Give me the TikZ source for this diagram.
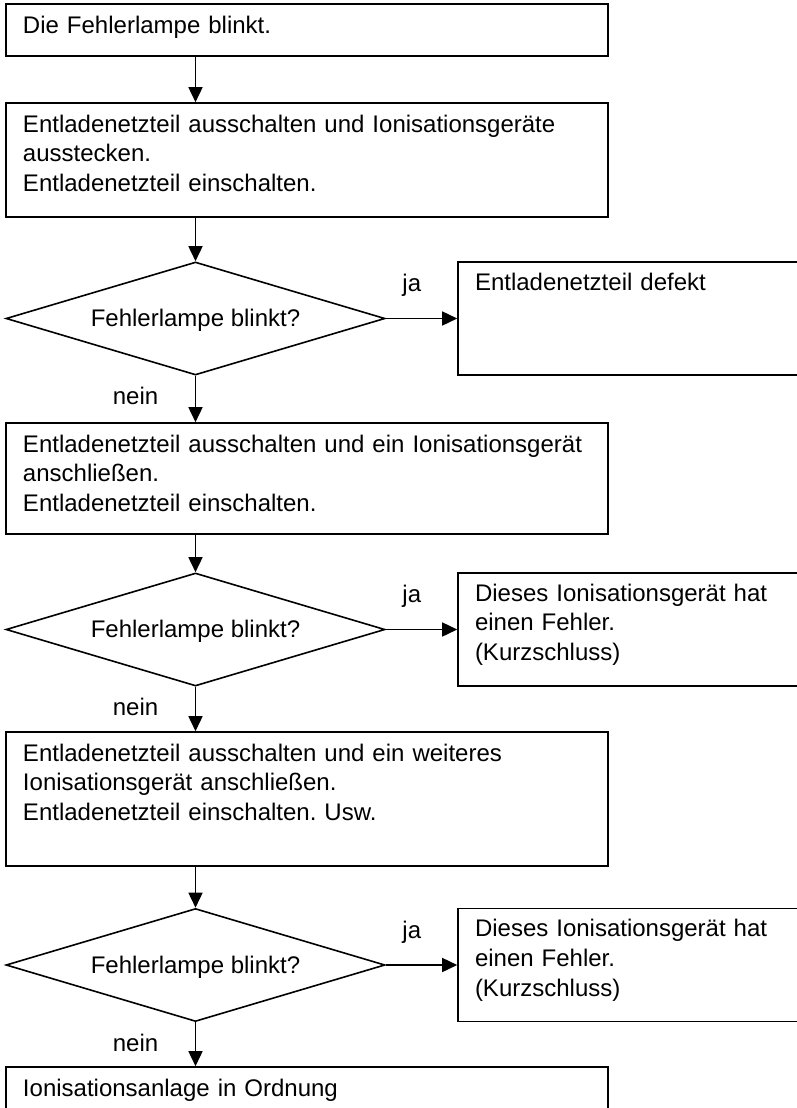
\documentclass[tikz,border=0pt]{standalone}
\usepackage{fontspec}
\setmainfont{Liberation Sans}
\frenchspacing
\usetikzlibrary{positioning, fit, shapes.geometric, arrows.meta}
\tikzset{myarrow/.style={-{Triangle[length=15pt, width=14pt]}}}
\tikzset{beschriftung/.style={font=\fontsize{24}{29.7}\selectfont}}
\tikzset{kasten/.style={draw, line width=1.6pt, inner sep=0pt}}
\tikzset{kastentext/.style={beschriftung, anchor=base west, inner sep=0pt, align=left, text width=#1}}
\tikzset{raute/.style={diamond, draw, line width=1.6pt, aspect=3.3, minimum width=379pt, minimum height=113pt, inner sep=0pt, text height=16pt, text depth=0pt, beschriftung}}

\begin{document}
\begin{tikzpicture}[x=1pt, y=-1pt, line width=1.6pt]
		\useasboundingbox (0,0) rectangle (797,1108);
		
		% SCHRITTE
		\foreach \i/\oben/\unten/\txt in {
			1/4/56/{Die Fehlerlampe blinkt.},
			2/103/217/{Entladenetzteil ausschalten und Ionisationsgeräte\\ausstecken.\\Entladenetzteil einschalten.},
			3/423/534/{Entladenetzteil ausschalten und ein Ionisationsgerät\\anschließen.\\Entladenetzteil einschalten.},
			4/732/866/{Entladenetzteil ausschalten und ein weiteres\\Ionisationsgerät anschließen.\\Entladenetzteil einschalten. Usw.},
			5/1067/1120/{Ionisationsanlage in Ordnung}} {
			\node[kasten, fit={(6,\oben) (608,\unten)}] (s\i) {};
			\node[kastentext=570pt] (t\i) at ([xshift=17pt, yshift=-30pt]s\i.north west) {\txt};
		}
		
		% ABFRAGEN
		\foreach \i/\mitte/\txt in {
			1/318.5/{Entladenetzteil defekt},
			2/629.5/{Dieses Ionisationsgerät hat\\einen Fehler.\\(Kurzschluss)},
			3/965/{Dieses Ionisationsgerät hat\\einen Fehler.\\(Kurzschluss)}} {
			\node[raute] (d\i) at (195.5,\mitte) {Fehlerlampe blinkt?};
			\node[kasten, fit={(458,\mitte-56.5) (810,\mitte+56.5)}] (r\i) {};
			\node[kastentext=310pt] (rt\i) at ([xshift=17pt, yshift=-29pt]r\i.north west) {\txt};
			\draw[myarrow] (d\i.east) -- (r\i.west);
			\node[beschriftung, anchor=base] (ja\i) at ([xshift=26pt, yshift=27pt]d\i.east) {ja};
			\node[beschriftung, anchor=base] (nein\i) at ([xshift=-60pt, yshift=-29pt]d\i.south) {nein};
		}
		
		% PFEILE
		\draw[myarrow] (s1.south -| d1.north) -- (s2.north -| d1.north);
		\draw[myarrow] (s2.south -| d1.north) -- (d1.north);
		\draw[myarrow] (d1.south) -- (s3.north -| d1.south);
		\draw[myarrow] (s3.south -| d2.north) -- (d2.north);
		\draw[myarrow] (d2.south) -- (s4.north -| d2.south);
		\draw[myarrow] (s4.south -| d3.north) -- (d3.north);
		\draw[myarrow] (d3.south) -- (s5.north -| d3.south);
		
	\end{tikzpicture}
\end{document}
